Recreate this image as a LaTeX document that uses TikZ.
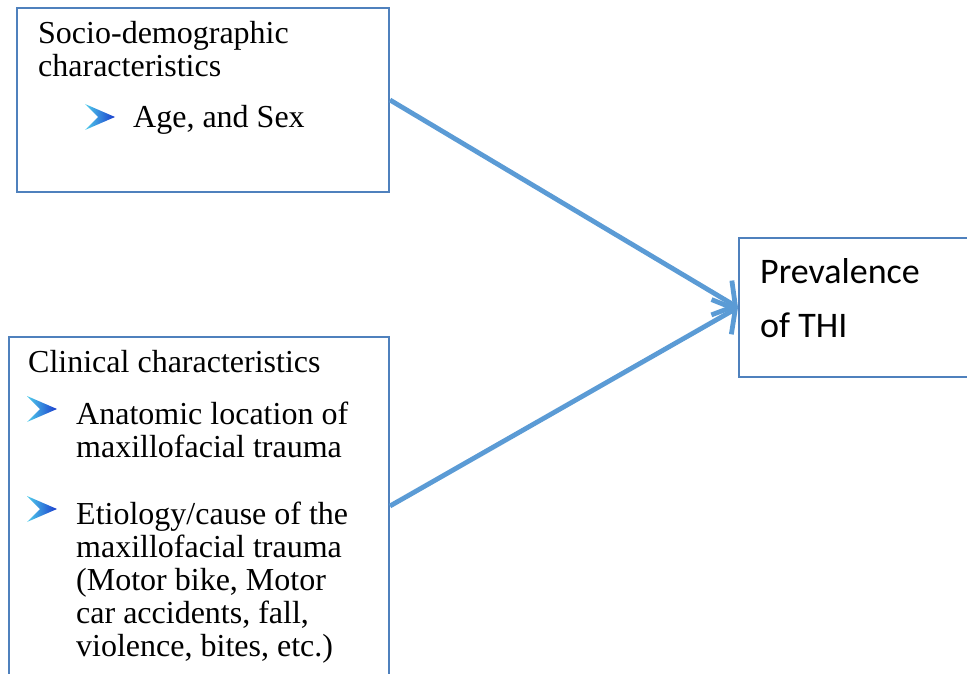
\documentclass[tikz,border=0pt]{standalone}
\usepackage{fontspec}
\setmainfont{Liberation Serif}
\newfontfamily\calibri{Carlito}
\usepackage{xcolor}
\usetikzlibrary{arrows.meta,positioning,calc}
\definecolor{boxblue}{RGB}{79,129,189}
\definecolor{arrblue}{RGB}{91,155,213}
\definecolor{chevlight}{RGB}{80,205,235}
\definecolor{chevdark}{RGB}{25,60,205}
\tikzset{
  frame/.style={draw=boxblue, line width=2pt, inner sep=0pt},
  txt/.style={anchor=base west, inner sep=0pt, align=left, font=\fontsize{32}{33}\selectfont},
  link/.style={draw=arrblue, line width=4.8pt, -{Straight Barb[length=16pt,width=40pt,line width=4.8pt]}}
}
% bullet arrow, #1 = left end, #2 = middle height
\newcommand{\chevbullet}[2]{\shade[left color=chevlight, right color=chevdark] (#1,#2-13) -- (#1+30,#2) -- (#1,#2+13) -- (#1+13,#2) -- cycle;}

\begin{document}
\begin{tikzpicture}[x=1pt, y=-1pt]
\useasboundingbox (0,0) rectangle (967,674);

%boxes
\node[frame, minimum width=372pt, minimum height=184pt] (socio) at (203,100) {};
\node[frame, minimum width=380pt, minimum height=338pt] (clin) at (199,506) {};
\node[frame, minimum width=233pt, minimum height=139pt] (prev) at (855.5,307.5) {};

%socio-demographic (base = last line)
\node[txt] (sociohead) at (38,77) {Socio-demographic\\characteristics};
\chevbullet{85}{117}
\node[txt] (agesex) at (133,128) {Age, and Sex};

%clinical
\node[txt] (clinhead) at (28,372) {Clinical characteristics};
\chevbullet{27}{409}
\node[txt] (anat) at (76,457) {Anatomic location of\\maxillofacial trauma};
\chevbullet{27}{509}
\node[txt] (etio) at (76,656) {Etiology/cause of the\\maxillofacial trauma\\(Motor bike, Motor\\car accidents, fall,\\violence, bites, etc.)};

%outcome
\node[txt, font=\calibri\fontsize{36}{54}\selectfont] (prevtxt) at (760,337) {Prevalence\\of THI};

%arrows
\draw[link] (socio.east) -- (prev.west);
\draw[link] (clin.east) -- (prev.west);
\end{tikzpicture}
\end{document}
